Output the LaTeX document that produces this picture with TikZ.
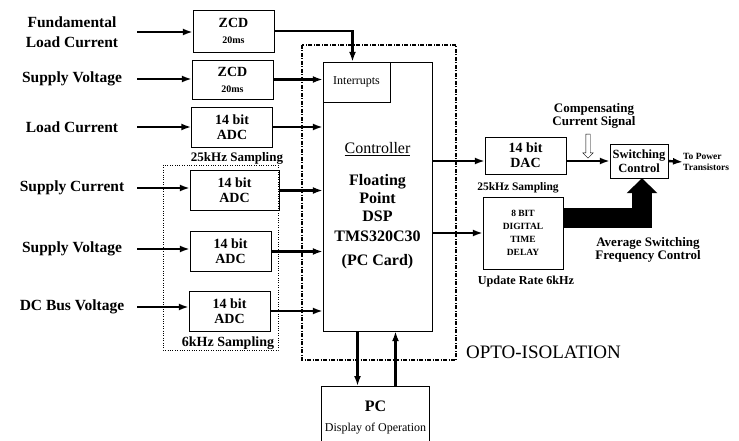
\documentclass[tikz,border=0pt]{standalone}
\usepackage{fontspec}
\setmainfont{Liberation Serif}
\usetikzlibrary{arrows.meta,shapes.arrows}

\begin{document}
\begin{tikzpicture}[x=1pt, y=-1pt, >={Latex[length=10pt,width=7pt]},
  blk/.style={draw, thin, minimum width=81pt, minimum height=40pt, align=center,
    inner sep=1pt, font=\fontsize{14}{15}\selectfont\bfseries},
  inlbl/.style={minimum width=130pt, align=center, inner sep=0pt,
    font=\fontsize{15.5}{20}\selectfont\bfseries},
  note/.style={align=center, inner sep=0pt, font=\fontsize{13}{13.5}\selectfont\bfseries},
  sig/.style={->, line width=2.4pt}]
  \useasboundingbox (0,0) rectangle (739,441);

  % 6kHz group and opto-isolation boundary
  \draw[dotted, thin] (163,165) rectangle (278,350);
  \draw[line width=1.3pt, dash pattern=on 4pt off 1.5pt on 1pt off 1.5pt]
    (302,45) rectangle (456,360);
  \node[font=\fontsize{19}{19}\selectfont, inner sep=0pt] (opto) at (543.5,352) {OPTO-ISOLATION};

  % Measured inputs
  \node[inlbl] (fund) at (72,32) {Fundamental\\Load Current};
  \node[inlbl] (supvA) at (72,79) {Supply Voltage};
  \node[inlbl] (loadc) at (72,127) {Load Current};
  \node[inlbl] (supc) at (72,188) {Supply Current};
  \node[inlbl] (supvB) at (72,249) {Supply Voltage};
  \node[inlbl] (dcbus) at (72,307) {DC Bus Voltage};

  % Zero crossing detectors and converters
  \node[blk, minimum height=42pt] (zcdA) at (233.5,31)
    {ZCD\\[1pt]{\fontsize{10}{10}\selectfont 20ms}};
  \node[blk, minimum height=39pt] (zcdB) at (232.5,79.5)
    {ZCD\\[1pt]{\fontsize{10}{10}\selectfont 20ms}};
  \node[blk] (adcA) at (232,127) {14 bit\\ADC};
  \node[blk, minimum width=89pt] (adcB) at (234.5,190.5) {14 bit\\ADC};
  \node[blk] (adcC) at (230.5,251.5) {14 bit\\ADC};
  \node[blk] (adcD) at (229.5,311) {14 bit\\ADC};
  \node[note] (rateA) at (237,158) {25kHz Sampling};
  \node[note, font=\fontsize{14}{14}\selectfont\bfseries] (rateB) at (228,343) {6kHz Sampling};

  % Controller
  \node[draw, thin, minimum width=109pt, minimum height=269pt] (ctrl) at (377.5,196.5) {};
  \node[draw, thin, minimum width=67pt, minimum height=40pt, anchor=north west,
    font=\fontsize{12}{12}\selectfont] (intr) at (ctrl.north west) {Interrupts};
  \node[align=center, font=\fontsize{16}{18}\selectfont] (ctrltxt) at (377.5,206)
    {\underline{Controller}\\[14pt]\bfseries Floating\\\bfseries Point\\\bfseries DSP\\[2pt]
     \bfseries TMS320C30\\[6pt]\bfseries (PC Card)};

  % Outputs
  \node[blk, minimum height=37pt] (dac) at (525.5,155.5) {14 bit\\DAC};
  \node[note, font=\fontsize{11.5}{12}\selectfont\bfseries] (rateC) at (518,188) {25kHz Sampling};
  \node[blk, minimum width=80pt, minimum height=72pt,
    font=\fontsize{9.5}{13}\selectfont\bfseries] (delay) at (523,233) {8 BIT\\DIGITAL\\TIME\\DELAY};
  \node[note, font=\fontsize{12.2}{13}\selectfont\bfseries] (upd) at (526,282) {Update Rate 6kHz};
  \node[blk, minimum width=58pt, minimum height=34pt,
    font=\fontsize{12.5}{14}\selectfont\bfseries] (sw) at (639,161) {Switching\\Control};
  \node[note] (cmp) at (594,116) {Compensating\\Current Signal};
  \node[note] (avg) at (648,250) {Average Switching\\Frequency Control};
  \node[anchor=west, align=left, inner sep=0pt,
    font=\fontsize{9.5}{11}\selectfont\bfseries] (pwr) at (683,162) {To Power\\Transistors};
  \node[draw, thin, single arrow, shape border rotate=270, minimum height=24pt,
    minimum width=10pt, inner sep=2pt, single arrow head extend=3pt] (cmparr) at (588,145) {};

  % PC
  \node[draw, thin, minimum width=107pt, minimum height=62pt, align=center, anchor=north,
    font=\fontsize{12}{20}\selectfont] (pc) at (375.5,386)
    {{\fontsize{16}{16}\selectfont\bfseries PC}\\Display of Operation};

  % Signal paths
  \draw[sig] (fund.east) -- (fund.east -| zcdA.west);
  \draw[sig] (supvA.east) -- (supvA.east -| zcdB.west);
  \draw[sig] (loadc.east) -- (loadc.east -| adcA.west);
  \draw[sig] (supc.east) -- (supc.east -| adcB.west);
  \draw[sig] (supvB.east) -- (supvB.east -| adcC.west);
  \draw[sig] (dcbus.east) -- (dcbus.east -| adcD.west);
  \draw[sig] (zcdA.east) -| ([xshift=-4pt]intr.north);
  \draw[sig] (zcdB.east) -- (zcdB.east -| intr.west);
  \draw[sig] (adcA.east) -- (adcA.east -| ctrl.west);
  \draw[sig] (adcB.east) -- (adcB.east -| ctrl.west);
  \draw[sig] (adcC.east) -- (adcC.east -| ctrl.west);
  \draw[sig] (adcD.east) -- (adcD.east -| ctrl.west);
  \draw[sig] (sw.west -| ctrl.east) -- (sw.west -| dac.west);
  \draw[sig] (ctrl.east |- delay.west) -- (delay.west);
  \draw[sig] (sw.west -| dac.east) -- (sw.west);
  \draw[sig] (sw.east) -- (pwr.west);
  \draw[line width=20pt, -{Triangle[length=15pt,width=30pt]}]
    ([yshift=15pt]delay.east) -| ([xshift=3pt]sw.south);
  \draw[sig] ([xshift=-20pt]ctrl.south) -- ([xshift=-20pt]ctrl.south |- pc.north);
  \draw[sig] ([xshift=18pt]ctrl.south |- pc.north) -- ([xshift=18pt]ctrl.south);
\end{tikzpicture}
\end{document}
